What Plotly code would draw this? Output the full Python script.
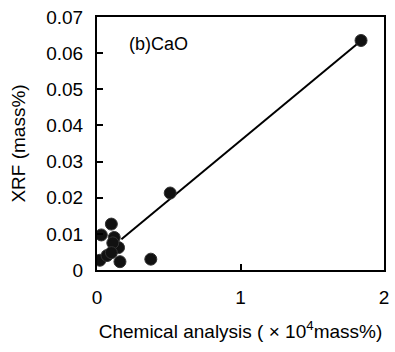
import plotly.graph_objects as go

chem_x = [0.10, 0.03, 0.12, 0.15, 0.11, 0.02, 0.07, 0.16, 0.10, 0.375, 0.51, 1.84]
xrf_y = [0.0127, 0.0097, 0.0090, 0.0062, 0.0075, 0.0027, 0.0040, 0.0023, 0.0048, 0.0030, 0.0213, 0.0635]
fit_x = [0.17, 1.84]
fit_y = [0.0085, 0.0634]
x_ticks = [0, 1, 2]
y_ticks = [0, 0.01, 0.02, 0.03, 0.04, 0.05, 0.06, 0.07]
y_tick_text = ["0", "0.01", "0.02", "0.03", "0.04", "0.05", "0.06", "0.07"]

FONT = "Liberation Sans, Arial, sans-serif"

fig = go.Figure()
fig.add_trace(go.Scatter(x=fit_x, y=fit_y, mode="lines",
                         line=dict(color="black", width=2), showlegend=False))
fig.add_trace(go.Scatter(x=chem_x, y=xrf_y, mode="markers",
                         marker=dict(color="#111", size=12,
                                     line=dict(color="#333", width=1)),
                         showlegend=False))

fig.add_annotation(x=0.21, y=0.0625, xref="x", yref="y", text="(b)CaO",
                   showarrow=False, xanchor="left", yanchor="middle",
                   font=dict(family=FONT, size=18, color="black"))

fig.update_layout(
    width=395, height=352,
    margin=dict(l=97, r=11, t=17, b=82),
    paper_bgcolor="white", plot_bgcolor="white",
    font=dict(family=FONT, size=19, color="black"),
    xaxis=dict(range=[0, 2], tickvals=x_ticks, ticks="inside", ticklen=6,
               tickwidth=1.5, tickcolor="black", automargin=False,
               showline=True, linecolor="black", linewidth=2, mirror=True,
               showgrid=False, zeroline=False, ticklabelstandoff=9,
               title=dict(text="Chemical analysis ( \u00d7 10<sup>4</sup>mass%)",
                          font=dict(size=19), standoff=18)),
    yaxis=dict(range=[0, 0.07], tickvals=y_ticks, ticktext=y_tick_text,
               ticks="inside", ticklen=6, tickwidth=1.5, tickcolor="black",
               automargin=False,
               showline=True, linecolor="black", linewidth=2, mirror=True,
               showgrid=False, zeroline=False, ticklabelstandoff=8,
               title=dict(text="XRF (mass%)",
                          font=dict(size=19), standoff=16)),
)

fig.write_html("out.html")
